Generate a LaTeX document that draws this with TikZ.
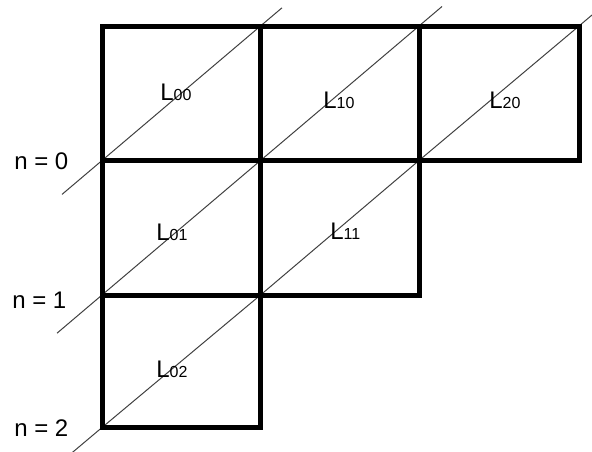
\documentclass[tikz,border=0pt]{standalone}
\usepackage{fontspec}
\setmainfont{Liberation Sans}
\begin{document}
\begin{tikzpicture}[x=0.75pt,y=-0.75pt,
  cellbox/.style={draw=black,line width=3.75pt,line join=miter},
  diag/.style={draw=black!75,line width=0.75pt},
  nlabel/.style={anchor=base west,inner sep=0pt,font=\fontsize{18}{20}\selectfont},
  llabel/.style={anchor=base west,inner sep=0pt,font=\fontsize{18}{20}\selectfont}]
\useasboundingbox (0,0) rectangle (592,451);
% corner coordinates
\coordinate (c00) at (102,26);
\coordinate (c10) at (260.5,26);
\coordinate (c20) at (419,26);
\coordinate (c30) at (579,26);
\coordinate (c01) at (102,160.5);
\coordinate (c11) at (260.5,160.5);
\coordinate (c21) at (419,160.5);
\coordinate (c31) at (579,160.5);
\coordinate (c02) at (102,295);
\coordinate (c12) at (260.5,295);
\coordinate (c22) at (419,295);
\coordinate (c03) at (102,427.5);
\coordinate (c13) at (260.5,427.5);
% diagonal ends
\coordinate (a0) at (62,194.4);
\coordinate (a1) at (282,7.8);
\coordinate (b0) at (57,333.2);
\coordinate (b1) at (442,6.5);
\coordinate (d0) at (71,453.6);
\coordinate (d1) at (592,15);
% diagonals
\draw[diag] (a0) -- (c01) -- (c10) -- (a1);
\draw[diag] (b0) -- (c02) -- (c11) -- (c20) -- (b1);
\draw[diag] (d0) -- (c03) -- (c12) -- (c21) -- (c30) -- (d1);
% cells
\draw[cellbox] (c00) rectangle (c11);
\draw[cellbox] (c10) rectangle (c21);
\draw[cellbox] (c20) rectangle (c31);
\draw[cellbox] (c01) rectangle (c12);
\draw[cellbox] (c11) rectangle (c22);
\draw[cellbox] (c02) rectangle (c13);
% cell labels
\node[llabel] (L00) at (160,100) {L{\fontsize{12}{14}\selectfont 00}};
\node[llabel] (L10) at (323,108) {L{\fontsize{12}{14}\selectfont 10}};
\node[llabel] (L20) at (489,108) {L{\fontsize{12}{14}\selectfont 20}};
\node[llabel] (L01) at (156,240) {L{\fontsize{12}{14}\selectfont 01}};
\node[llabel] (L11) at (330,239) {L{\fontsize{12}{14}\selectfont 11}};
\node[llabel] (L02) at (156,377) {L{\fontsize{12}{14}\selectfont 02}};
% n labels
\node[nlabel] (n0) at (14,169) {n = 0};
\node[nlabel] (n1) at (12,308) {n = 1};
\node[nlabel] (n2) at (14,436) {n = 2};
\end{tikzpicture}
\end{document}
